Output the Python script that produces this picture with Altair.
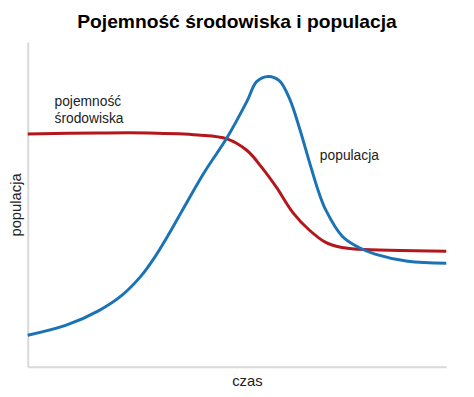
import altair as alt
import pandas as pd

# population (blue) curve: time, value
pop_t = [0, 9.2, 17, 22.4, 27.1, 30.0, 33.5, 36.6, 42.2, 47.6, 52.4, 54.7, 57.5, 60.1, 62.5, 64.9, 67.2, 69.6, 71.2, 75.2, 79, 83, 90.8, 100]
pop_v = [9.7, 12.8, 17.3, 21.9, 28.0, 33.1, 40.4, 47.4, 59.9, 70.5, 81.8, 87.8, 89.4, 88.1, 82.7, 73.6, 63.5, 53.5, 48.3, 40.1, 36.8, 34.7, 32.5, 31.9]

# carrying capacity (red) curve
cap_t = [0, 17, 28.8, 40.6, 47.6, 52.4, 56.1, 59.4, 63.4, 67.2, 71.2, 74.8, 79, 100]
cap_v = [71.7, 72, 72, 71.4, 70.2, 66.6, 61.1, 55.3, 47.4, 42.2, 38.3, 36.8, 36.2, 35.6]

# annotation labels
lab_text = ["pojemność", "środowiska", "populacja"]
lab_t = [6.4, 6.4, 69.8]
lab_v = [81.5, 76.3, 65.0]

pop = pd.DataFrame({"t": pop_t, "v": pop_v})
cap = pd.DataFrame({"t": cap_t, "v": cap_v})
labs = pd.DataFrame({"t": lab_t, "v": lab_v, "text": lab_text})

FONT = "Liberation Sans"

xs = alt.X("t:Q", scale=alt.Scale(domain=[0, 100], nice=False, zero=False),
           axis=alt.Axis(title="czas", labels=False, ticks=False, grid=False,
                         domainColor="#d9d9d9", domainWidth=2, titleFont=FONT,
                         titleFontSize=15, titleFontWeight="normal", titleColor="#222222",
                         titlePadding=7, titleX=222))
ys = alt.Y("v:Q", scale=alt.Scale(domain=[0, 100], nice=False, zero=False),
           axis=alt.Axis(title="populacja", labels=False, ticks=False, grid=False,
                         domainColor="#d9d9d9", domainWidth=2, titleFont=FONT,
                         titleFontSize=15, titleFontWeight="normal", titleColor="#222222",
                         titlePadding=4))

red = alt.Chart(cap).mark_line(color="#b3161b", strokeWidth=3, interpolate="catmull-rom").encode(x=xs, y=ys)
blue = alt.Chart(pop).mark_line(color="#1a73b5", strokeWidth=3, interpolate="catmull-rom").encode(x="t:Q", y="v:Q")
text = alt.Chart(labs).mark_text(align="left", baseline="middle", font=FONT, fontSize=14, color="#222222").encode(
    x="t:Q", y="v:Q", text="text:N")

chart = alt.layer(red, blue, text).properties(
    width=424, height=329,
    title=alt.TitleParams("Pojemność środowiska i populacja", font=FONT, fontSize=19.5,
                          fontWeight="bold", color="#000000", anchor="middle", offset=10),
    autosize=alt.AutoSizeParams(type="none"),
    padding={"left": 20, "top": 32, "right": 20, "bottom": 20},
).configure_view(stroke=None)

chart.save("out.html", embed_options={"renderer": "svg", "actions": False})
